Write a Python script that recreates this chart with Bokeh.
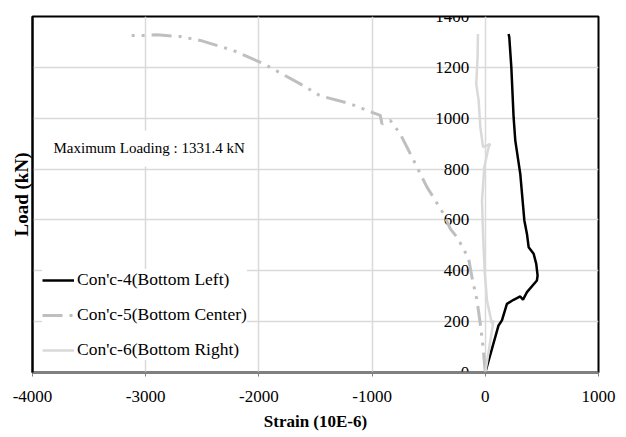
from bokeh.plotting import figure
from bokeh.models import FixedTicker, Label, Legend, LegendItem
from bokeh.core.properties import value
from bokeh.embed import file_html
from bokeh.resources import INLINE

# ---- data (strain in 10E-6, load in kN) ----
c4_strain = [0, 117, 147, 191, 250, 309, 333, 368, 456, 462, 450, 427, 383, 368, 345, 309, 265, 250, 230, 212, 206]
c4_load = [0, 185, 205, 270, 286, 299, 286, 316, 362, 381, 427, 467, 493, 545, 598, 781, 912, 1004, 1200, 1318, 1331]

c5_strain = [0, -20, -44, -73, -118, -147, -192, -250, -309, -368, -515, -633, -751, -839, -913, -928, -1001,
             -1193, -1458, -1635, -1958, -2223, -2518, -2695, -2901, -3020, -3124]
c5_load = [0, 100, 191, 283, 375, 447, 486, 532, 565, 624, 729, 834, 938, 991, 978, 1011, 1023,
           1057, 1088, 1135, 1214, 1266, 1306, 1321, 1328, 1325, 1325]

c6_strain = [0, 73, 59, 15, -6, -20, -29, -9, 29, 44, -20, -44, -59, -80, -68, -65]
c6_load = [0, 204, 191, 283, 401, 545, 676, 807, 886, 899, 886, 965, 1070, 1135, 1240, 1331]

series_names = ["Con'c-4(Bottom Left)", "Con'c-5(Bottom Center)", "Con'c-6(Bottom Right)"]

x_ticks = [-4000, -3000, -2000, -1000, 0, 1000]
x_tick_labels = {v: str(v) for v in x_ticks}
y_ticks = [0, 200, 400, 600, 800, 1000, 1200, 1400]
y_tick_labels = [str(v) for v in y_ticks]
y_tick_x = [0] * len(y_ticks)

note_text = "Maximum Loading : 1331.4 kN"
note_x, note_y = -3903, 881

SERIF = "Liberation Serif, Times New Roman, serif"

p = figure(width=626, height=437, x_range=(-4000, 1000), y_range=(0, 1400),
           output_backend="svg", toolbar_location=None,
           min_border_left=32, min_border_right=28, min_border_top=16, min_border_bottom=65)
p.background_fill_color = "white"
p.border_fill_color = "white"
p.outline_line_color = "black"
p.outline_line_width = 2

# x axis
xa = p.xaxis[0]
xa.ticker = FixedTicker(ticks=x_ticks)
xa.major_label_overrides = x_tick_labels
xa.major_label_text_font = SERIF
xa.major_label_text_font_size = "17px"
xa.major_label_text_color = "black"
xa.major_label_standoff = 14
xa.axis_line_color = "#808080"
xa.axis_line_width = 2
xa.major_tick_in = 0
xa.major_tick_out = 4
xa.major_tick_line_color = "#808080"
xa.minor_tick_line_color = None
xa.axis_label = "Strain (10E-6)"
xa.axis_label_text_font = SERIF
xa.axis_label_text_font_size = "17px"
xa.axis_label_text_font_style = "bold"
xa.axis_label_text_color = "black"
xa.axis_label_standoff = 7

# y axis (left border + title only; tick labels drawn at x=0)
ya = p.yaxis[0]
ya.ticker = FixedTicker(ticks=y_ticks)
ya.major_label_text_font_size = "0px"
ya.major_label_standoff = 0
ya.major_tick_in = 0
ya.major_tick_out = 0
ya.minor_tick_line_color = None
ya.axis_line_color = "black"
ya.axis_line_width = 2
ya.axis_label = "Load (kN)"
ya.axis_label_text_font = SERIF
ya.axis_label_text_font_size = "19px"
ya.axis_label_text_font_style = "bold"
ya.axis_label_text_color = "black"
ya.axis_label_standoff = 1

p.xgrid.grid_line_color = "#d9d9d9"
p.xgrid.grid_line_width = 1.5
p.ygrid.grid_line_color = "#d9d9d9"
p.ygrid.grid_line_width = 1.5

# y tick labels along the x=0 line
p.text(x=y_tick_x, y=y_ticks, text=y_tick_labels, text_align="right", text_baseline="middle",
       x_offset=-16, text_font=value(SERIF), text_font_size="17px", text_color="black")

r4 = p.line(c4_strain, c4_load, line_color="black", line_width=2.5)
r5 = p.line(c5_strain, c5_load, line_color="#bfbfbf", line_width=3, line_dash="20 7 3 7 3 7")
r6 = p.line(c6_strain, c6_load, line_color="#d9d9d9", line_width=2.5)

legend = Legend(items=[LegendItem(label=series_names[0], renderers=[r4]),
                       LegendItem(label=series_names[1], renderers=[r5]),
                       LegendItem(label=series_names[2], renderers=[r6])],
                location=(10, 12), label_text_font=SERIF, label_text_font_size="17.5px",
                label_text_color="black", glyph_width=32, glyph_height=20, label_height=20,
                spacing=14, padding=8, margin=0, label_standoff=3,
                border_line_color=None, background_fill_color="white", background_fill_alpha=1)
p.add_layout(legend)

note = Label(x=note_x, y=note_y, text=note_text, text_font=SERIF, text_font_size="15px",
             text_baseline="middle", text_color="black",
             background_fill_color="white", background_fill_alpha=1, padding=10)
p.add_layout(note)

open("out.html", "w").write(file_html(p, INLINE))
